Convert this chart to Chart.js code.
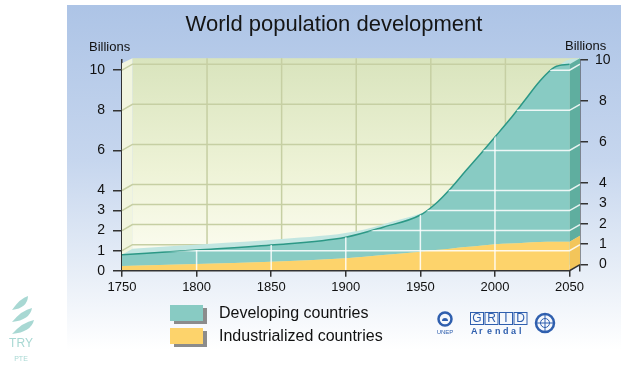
<!DOCTYPE html>
<html>
<head>
<meta charset="utf-8">
<script src="https://cdn.jsdelivr.net/npm/chart.js@4.4.1/dist/chart.umd.min.js"></script>
<style>
  html, body { margin: 0; padding: 0; background: #fff; }
  #wrap { width: 636px; height: 371px; }
</style>
</head>
<body>
<div id="wrap"><canvas id="popChart" width="636" height="371"></canvas></div>
<script>
// values (billions)
const years = [1750, 1800, 1850, 1900, 1925, 1950, 1960, 1970, 1980, 1990, 2000, 2010, 2020, 2030, 2040, 2050];
const industrialized = [0.23, 0.33, 0.45, 0.62, 0.78, 0.95, 1.03, 1.10, 1.18, 1.25, 1.32, 1.36, 1.40, 1.43, 1.44, 1.45];
const developing = [0.57, 0.70, 0.83, 1.05, 1.39, 1.83, 2.30, 2.98, 3.77, 4.55, 5.35, 6.19, 7.10, 8.02, 8.71, 8.85];
const yearTicks = [1750, 1800, 1850, 1900, 1950, 2000, 2050];
const billionTicks = [0, 1, 2, 3, 4, 6, 8, 10];

const FONT = '"Liberation Sans", Arial, sans-serif';
Chart.defaults.font.family = FONT;

const DY = -6;

// traces the smoothed line of a dataset, shifted by dx/dy
function traceCurve(ctx, pts, dx, dy) {
    pts.forEach((p, i) => {
        if (i === 0) { ctx.lineTo(p.x + dx, p.y + dy); return; }
        const q = pts[i - 1];
        ctx.bezierCurveTo(q.cp2x + dx, q.cp2y + dy, p.cp1x + dx, p.cp1y + dy, p.x + dx, p.y + dy);
    });
}

const scene = {
    id: 'scene',
    beforeDraw(chart) {
        const { ctx, width, height } = chart;
        ctx.save();
        ctx.fillStyle = '#fff';
        ctx.fillRect(0, 0, width, height);
        const g = ctx.createLinearGradient(0, 5, 0, 350);
        g.addColorStop(0, '#adc4e6');
        g.addColorStop(0.45, '#c6d6ee');
        g.addColorStop(0.8, '#eaf0f8');
        g.addColorStop(1, '#ffffff');
        ctx.fillStyle = g;
        ctx.fillRect(67, 5, 554, 345);
        ctx.restore();
    },
    beforeDatasetsDraw(chart) {
        const { ctx, chartArea: ca, scales } = chart;
        const x = scales.x, y = scales.y;
        const y0 = y.getPixelForValue(0);
        const DX = ca.right - x.getPixelForValue(years[years.length - 1]);
        const wallTop = ca.top - 2;
        ctx.save();
        // back wall
        const wg = ctx.createLinearGradient(0, wallTop, 0, y0 + DY);
        wg.addColorStop(0, '#d9e4bd');
        wg.addColorStop(0.55, '#eef3d7');
        wg.addColorStop(1, '#fdfdf2');
        ctx.fillStyle = wg;
        ctx.fillRect(ca.left + DX, wallTop, ca.right - ca.left - DX, y0 + DY - wallTop);
        // left wall
        ctx.fillStyle = '#f1f5df';
        ctx.beginPath();
        ctx.moveTo(ca.left, wallTop + 5);
        ctx.lineTo(ca.left + DX, wallTop);
        ctx.lineTo(ca.left + DX, y0 + DY);
        ctx.lineTo(ca.left, y0);
        ctx.closePath();
        ctx.fill();
        // wall grid
        ctx.strokeStyle = '#c6cfa3';
        ctx.lineWidth = 1.5;
        billionTicks.filter(v => v > 0).forEach(v => {
            const yy = y.getPixelForValue(v);
            ctx.beginPath();
            ctx.moveTo(ca.left, yy);
            ctx.lineTo(ca.left + DX, yy + DY);
            ctx.lineTo(ca.right, yy + DY);
            ctx.stroke();
        });
        yearTicks.slice(1, -1).forEach(v => {
            const xx = x.getPixelForValue(v) + DX;
            ctx.beginPath();
            ctx.moveTo(xx, wallTop);
            ctx.lineTo(xx, y0 + DY);
            ctx.stroke();
        });
        // top surface of the stacked areas
        const meta = chart.getDatasetMeta(1);
        meta.dataset.updateControlPoints(ca, 'x');
        const pts = meta.data;
        const first = pts[0], last = pts[pts.length - 1];
        ctx.fillStyle = '#c2e6e1';
        ctx.beginPath();
        ctx.moveTo(first.x, first.y);
        traceCurve(ctx, pts, DX, DY);
        ctx.lineTo(last.x + DX, y0 + DY);
        ctx.lineTo(first.x, y0);
        ctx.closePath();
        ctx.fill();
        ctx.restore();
    },
    afterDatasetsDraw(chart) {
        const { ctx, chartArea: ca, scales } = chart;
        const x = scales.x, y = scales.y;
        const y0 = y.getPixelForValue(0);
        const DX = ca.right - x.getPixelForValue(years[years.length - 1]);
        const top = chart.getDatasetMeta(1).data;
        const bot = chart.getDatasetMeta(0).data;
        const lt = top[top.length - 1], lb = bot[bot.length - 1];
        ctx.save();
        // side faces
        ctx.fillStyle = '#5fae9f';
        ctx.beginPath();
        ctx.moveTo(lt.x, lt.y);
        ctx.lineTo(lt.x + DX, lt.y + DY);
        ctx.lineTo(lb.x + DX, lb.y + DY);
        ctx.lineTo(lb.x, lb.y);
        ctx.closePath();
        ctx.fill();
        ctx.fillStyle = '#f3c55a';
        ctx.beginPath();
        ctx.moveTo(lb.x, lb.y);
        ctx.lineTo(lb.x + DX, lb.y + DY);
        ctx.lineTo(lb.x + DX, y0 + DY);
        ctx.lineTo(lb.x, y0);
        ctx.closePath();
        ctx.fill();
        // white grid over the areas
        ctx.beginPath();
        ctx.moveTo(top[0].x, y0);
        traceCurve(ctx, top, 0, 0);
        ctx.lineTo(lt.x + DX, lt.y + DY);
        ctx.lineTo(lt.x + DX, y0 + DY);
        ctx.lineTo(lt.x, y0);
        ctx.closePath();
        ctx.clip();
        ctx.strokeStyle = 'rgba(255,255,255,0.85)';
        ctx.lineWidth = 1.5;
        billionTicks.filter(v => v > 0).forEach(v => {
            const yy = y.getPixelForValue(v);
            ctx.beginPath();
            ctx.moveTo(ca.left, yy);
            ctx.lineTo(lt.x, yy);
            ctx.lineTo(lt.x + DX, yy + DY);
            ctx.stroke();
        });
        yearTicks.slice(1, -1).forEach(v => {
            const xx = x.getPixelForValue(v);
            ctx.beginPath();
            ctx.moveTo(xx, y0);
            ctx.lineTo(xx, ca.top);
            ctx.stroke();
        });
        ctx.restore();
        // floor edge
        ctx.save();
        ctx.strokeStyle = '#333';
        ctx.lineWidth = 1.5;
        ctx.beginPath();
        ctx.moveTo(ca.left, y0);
        ctx.lineTo(lt.x, y0);
        ctx.lineTo(lt.x + DX, y0 + DY);
        ctx.stroke();
        ctx.restore();
    },
    afterDraw(chart) {
        const { ctx } = chart;
        ctx.save();
        ctx.fillStyle = '#111';
        ctx.textBaseline = 'middle';
        ctx.font = '13px ' + FONT;
        ctx.textAlign = 'left';
        ctx.fillText('Billions', 89, 47);
        ctx.fillText('Billions', 565, 46);

        // legend
        const items = [chart.data.datasets[1], chart.data.datasets[0]];
        ctx.font = '16px ' + FONT;
        items.forEach((ds, i) => {
            const top = 305 + i * 23;
            ctx.fillStyle = '#8c8c8c';
            ctx.fillRect(174, top + 3, 33, 16);
            ctx.fillStyle = ds.backgroundColor;
            ctx.fillRect(170, top, 33, 16);
            ctx.fillStyle = '#111';
            ctx.fillText(ds.label, 219, top + 9);
        });

        // logos
        const blue = '#2f5fae';
        ctx.strokeStyle = blue;
        ctx.fillStyle = blue;
        ctx.lineWidth = 2.5;
        ctx.beginPath();
        ctx.arc(445, 319, 6.5, 0, Math.PI * 2);
        ctx.stroke();
        ctx.beginPath();
        ctx.arc(445, 321, 3, Math.PI, 0);
        ctx.fill();
        ctx.font = '6px ' + FONT;
        ctx.textAlign = 'center';
        ctx.fillText('UNEP', 445, 332);
        ctx.lineWidth = 1;
        ['G', 'R', 'I', 'D'].forEach((c, i) => {
            const bx = 470 + i * 14.5;
            ctx.strokeRect(bx + 0.5, 312.5, 13, 12);
            ctx.font = '12px ' + FONT;
            ctx.fillText(c, bx + 7, 319);
        });
        ctx.font = 'bold 9px ' + FONT;
        ctx.textAlign = 'left';
        ['A', 'r', 'e', 'n', 'd', 'a', 'l'].forEach((c, i) => ctx.fillText(c, 471 + i * 8, 332));
        ctx.lineWidth = 2.5;
        ctx.beginPath();
        ctx.arc(545, 323, 9, 0, Math.PI * 2);
        ctx.stroke();
        ctx.lineWidth = 1;
        ctx.beginPath();
        ctx.arc(545, 323, 4.5, 0, Math.PI * 2);
        ctx.moveTo(536, 323); ctx.lineTo(554, 323);
        ctx.moveTo(545, 314); ctx.lineTo(545, 332);
        ctx.stroke();

        // TRY PTE mark
        ctx.fillStyle = '#a8d8d3';
        [[300, 16], [312, 20], [324, 22]].forEach(([yy, w]) => {
            ctx.beginPath();
            ctx.moveTo(12, yy + 10);
            ctx.quadraticCurveTo(14 + w * 0.4, yy - 2, 12 + w, yy - 4);
            ctx.quadraticCurveTo(18 + w * 0.6, yy + 8, 12, yy + 10);
            ctx.fill();
        });
        ctx.font = '12px ' + FONT;
        ctx.textAlign = 'center';
        ctx.fillText('TRY', 21, 344);
        ctx.font = '7px ' + FONT;
        ctx.fillText('PTE', 21, 359);
        ctx.restore();
    }
};

const ctx = document.getElementById('popChart').getContext('2d');
const popChart = new Chart(ctx, {
    type: 'line',
    data: {
        datasets: [{
            label: 'Industrialized countries',
            data: years.map((yr, i) => ({ x: yr, y: industrialized[i] })),
            backgroundColor: '#fdd36b',
            borderColor: '#fdd36b',
            borderWidth: 0,
            fill: 'origin',
            pointRadius: 0,
            cubicInterpolationMode: 'monotone'
        }, {
            label: 'Developing countries',
            data: years.map((yr, i) => ({ x: yr, y: developing[i] })),
            backgroundColor: '#88cbc3',
            borderColor: '#2c9886',
            borderWidth: 1.5,
            fill: '-1',
            pointRadius: 0,
            cubicInterpolationMode: 'monotone'
        }]
    },
    options: {
        responsive: false,
        animation: false,
        layout: { padding: { left: 32, top: 0, right: 0, bottom: 0 } },
        plugins: {
            legend: { display: false },
            tooltip: { enabled: false },
            title: {
                display: true,
                text: 'World population development',
                color: '#151515',
                font: { size: 22, weight: 'normal' },
                padding: { top: 12, bottom: 21.8 }
            }
        },
        scales: {
            x: {
                type: 'linear',
                min: 1750,
                max: 2057,
                afterBuildTicks: s => { s.ticks = yearTicks.map(v => ({ value: v })); },
                afterFit: s => { s.height = 100.3; },
                border: { display: false },
                grid: { drawOnChartArea: false, tickLength: 6, tickColor: '#333', lineWidth: 1.5 },
                ticks: { padding: 3, color: '#111', font: { size: 13 }, callback: v => String(v) }
            },
            y: {
                stacked: true,
                position: 'left',
                min: 0,
                max: 10.5,
                afterBuildTicks: s => { s.ticks = billionTicks.map(v => ({ value: v })); },
                afterFit: s => { s.width = 90; },
                border: { color: '#333', width: 1.5 },
                grid: { drawOnChartArea: false, tickLength: 9, tickColor: '#333', lineWidth: 1.5 },
                ticks: { padding: 8, color: '#111', font: { size: 14 } }
            },
            y2: {
                position: 'right',
                min: -0.3,
                max: 10,
                z: 1,
                afterBuildTicks: s => { s.ticks = billionTicks.map(v => ({ value: v })); },
                afterFit: s => { s.width = 56; },
                border: { color: '#333', width: 1.5 },
                grid: { drawOnChartArea: false, tickLength: 8, tickColor: '#333', lineWidth: 1.5 },
                ticks: { padding: 7, color: '#111', font: { size: 14 }, crossAlign: 'center' }
            }
        }
    },
    plugins: [scene]
});
</script>
</body>
</html>
